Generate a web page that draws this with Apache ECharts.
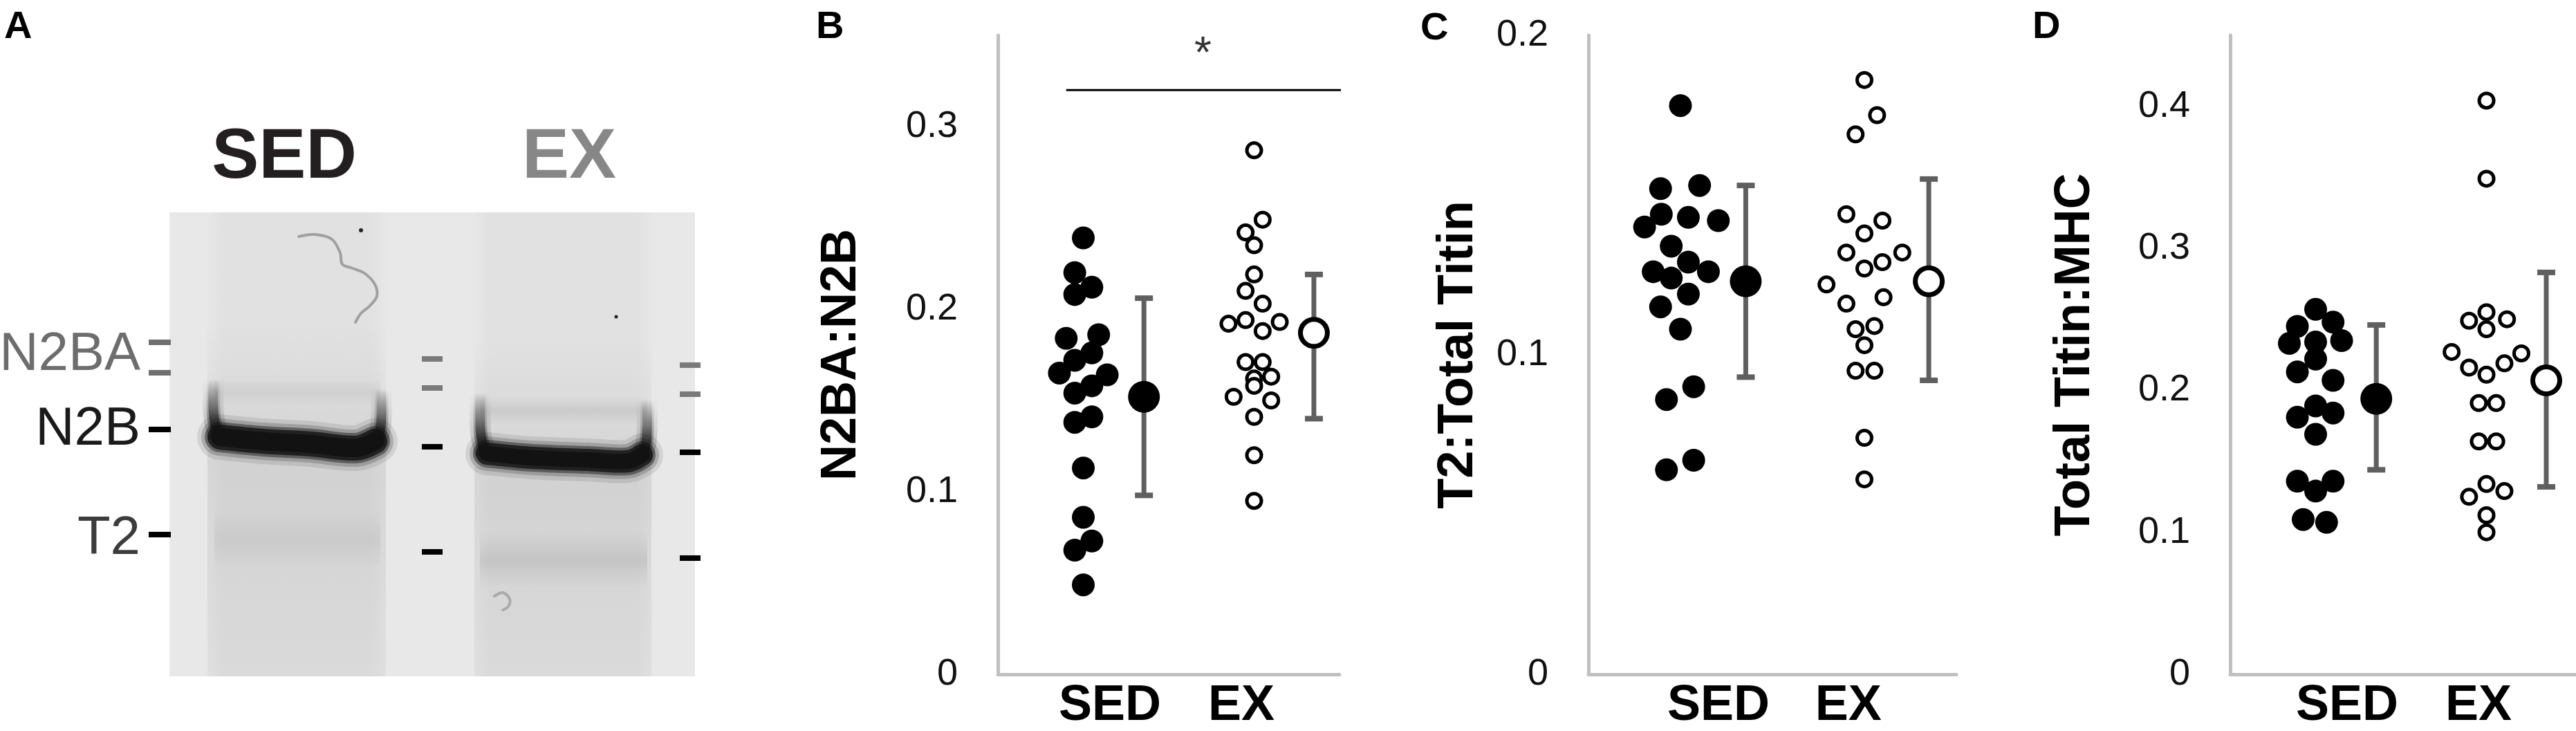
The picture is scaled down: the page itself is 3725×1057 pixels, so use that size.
<!DOCTYPE html>
<html>
<head>
<meta charset="utf-8">
<script src="https://cdn.jsdelivr.net/npm/echarts@6/dist/echarts.min.js"></script>
<style>
  html, body { margin: 0; padding: 0; background: #fff; }
  #chart { width: 3725px; height: 1057px; }
</style>
</head>
<body>
<div id="chart"></div>
<script>
// groups and where their labels sit on the x axis (0..2, SED column at 0.5, EX column at 1.5)
const groups = ['SED', 'EX'];
const groupPos = [0.5, 1.5];
const meanPos = [0.855, 1.85];

// B: N2BA:N2B
const bSedVal = [0.239, 0.220, 0.212, 0.208, 0.184, 0.186, 0.176, 0.172, 0.165, 0.164, 0.158, 0.154, 0.141, 0.138, 0.113, 0.086, 0.073, 0.068, 0.049];
const bSedOff = [0, -0.05, 0.05, -0.05, -0.10, 0.09, 0.05, -0.05, -0.14, 0.14, 0.05, -0.05, 0.05, -0.05, 0, 0, 0.05, -0.05, 0];
const bExVal = [0.287, 0.249, 0.242, 0.235, 0.219, 0.210, 0.203, 0.192, 0.194, 0.193, 0.188, 0.171, 0.171, 0.162, 0.163, 0.152, 0.158, 0.150, 0.141, 0.120, 0.095];
const bExOff = [0, 0.05, -0.05, 0, 0, -0.05, 0.05, -0.15, -0.05, 0.15, 0.05, -0.05, 0.05, 0, 0.10, -0.12, 0, 0.10, 0, 0, 0];
const bMean = [0.152, 0.187];
const bLow = [0.098, 0.140];
const bHigh = [0.206, 0.219];

// C: T2:Total Titin
const cSedVal = [0.178, 0.152, 0.153, 0.144, 0.143, 0.142, 0.140, 0.134, 0.129, 0.126, 0.126, 0.124, 0.119, 0.115, 0.108, 0.090, 0.086, 0.067, 0.064];
const cSedOff = [0, -0.108, 0.104, -0.104, 0.043, 0.206, -0.195, -0.05, 0.043, -0.148, 0.152, -0.05, 0.043, -0.108, 0, 0.072, -0.076, 0.072, -0.076];
const cExVal = [0.186, 0.175, 0.169, 0.144, 0.142, 0.138, 0.132, 0.132, 0.129, 0.127, 0.122, 0.118, 0.116, 0.109, 0.108, 0.103, 0.095, 0.095, 0.074, 0.061];
const cExOff = [0, 0.069, -0.048, -0.098, 0.098, 0, -0.098, 0.206, 0.098, 0, -0.206, 0.104, -0.098, 0.054, -0.048, 0, -0.048, 0.054, 0, 0];
const cMean = [0.123, 0.123];
const cLow = [0.093, 0.092];
const cHigh = [0.153, 0.155];

// D: Total Titin:MHC
const dSedVal = [0.257, 0.245, 0.248, 0.233, 0.234, 0.235, 0.222, 0.213, 0.207, 0.189, 0.181, 0.184, 0.169, 0.136, 0.136, 0.129, 0.109, 0.107];
const dSedOff = [0, -0.107, 0.102, -0.154, 0, 0.152, 0, -0.107, 0.102, 0, -0.107, 0.102, 0, -0.107, 0.102, 0, -0.073, 0.064];
const dExVal = [0.404, 0.349, 0.249, 0.255, 0.250, 0.243, 0.227, 0.226, 0.219, 0.216, 0.211, 0.191, 0.191, 0.164, 0.164, 0.134, 0.125, 0.129, 0.112, 0.100];
const dExOff = [0, 0, -0.102, 0, 0.12, 0, -0.204, 0.204, 0.105, -0.102, 0, -0.045, 0.057, -0.045, 0.057, 0, -0.102, 0.105, 0, 0];
const dMean = [0.194, 0.207];
const dLow = [0.144, 0.132];
const dHigh = [0.246, 0.283];

// significance bar over B
const sigSpan = [0.40, 2.03];
const sigLevel = 0.32;

const FONT = '"Liberation Sans", Arial, Helvetica, sans-serif';
const AXIS_GRAY = '#c0c0c0';
const BAR_GRAY = '#5f5f5f';

const panels = [
  { name: 'N2BA:N2B', max: 0.35, left: 1443, width: 494, xMax: 2, nameGap: 190,
    labelAt: [0.656, 1.425], sed: bSedVal, sedOff: bSedOff, ex: bExVal, exOff: bExOff,
    mean: bMean, low: bLow, high: bHigh },
  { name: 'T2:Total Titin', max: 0.2, left: 2297, width: 532, xMax: 2, nameGap: 152,
    labelAt: [0.707, 1.413], sed: cSedVal, sedOff: cSedOff, ex: cExVal, exOff: cExOff,
    mean: cMean, low: cLow, high: cHigh },
  { name: 'Total Titin:MHC', max: 0.45, left: 3225, width: 500, xMax: 2.024, nameGap: 188,
    labelAt: [0.684, 1.453], sed: dSedVal, sedOff: dSedOff, ex: dExVal, exOff: dExOff,
    mean: dMean, low: dLow, high: dHigh }
];

const grids = [], xAxes = [], yAxes = [], series = [];

panels.forEach((p, i) => {
  grids.push({ left: p.left, top: 51, width: p.width, height: 924 });
  xAxes.push({
    gridIndex: i, type: 'value', min: 0, max: p.xMax,
    axisLine: { show: true, lineStyle: { color: AXIS_GRAY, width: 5 } },
    axisTick: { show: false }, splitLine: { show: false },
    axisLabel: {
      customValues: p.labelAt, margin: 10,
      formatter: v => groups[Math.abs(v - p.labelAt[0]) < 0.01 ? 0 : 1],
      fontFamily: FONT, fontWeight: 'bold', fontSize: 72, color: '#000'
    }
  });
  yAxes.push({
    gridIndex: i, type: 'value', min: 0, max: p.max, interval: 0.1,
    name: p.name, nameLocation: 'middle', nameRotate: 90, nameGap: p.nameGap,
    nameTextStyle: { fontFamily: FONT, fontWeight: 'bold', fontSize: 72, color: '#000' },
    axisLine: { show: true, lineStyle: { color: AXIS_GRAY, width: 5 } },
    axisTick: { show: false }, splitLine: { show: false },
    axisLabel: {
      showMaxLabel: p.max === 0.2, margin: 58,
      formatter: v => (v === 0 ? '0' : v.toFixed(1)),
      fontFamily: FONT, fontSize: 54, color: '#111'
    }
  });

  // error bars (mean +/- spread)
  series.push({
    type: 'custom', xAxisIndex: i, yAxisIndex: i, z: 2,
    data: groups.map((g, k) => [meanPos[k], p.low[k], p.high[k]]),
    renderItem: (params, api) => {
      const x = api.value(0);
      const top = api.coord([x, api.value(2)]);
      const bot = api.coord([x, api.value(1)]);
      const cw = 13;
      return {
        type: 'group', children: [
          { type: 'line', shape: { x1: top[0], y1: top[1], x2: bot[0], y2: bot[1] }, style: { stroke: BAR_GRAY, lineWidth: 7 } },
          { type: 'line', shape: { x1: top[0] - cw, y1: top[1], x2: top[0] + cw, y2: top[1] }, style: { stroke: BAR_GRAY, lineWidth: 8 } },
          { type: 'line', shape: { x1: bot[0] - cw, y1: bot[1], x2: bot[0] + cw, y2: bot[1] }, style: { stroke: BAR_GRAY, lineWidth: 8 } }
        ]
      };
    }
  });

  // individual animals
  series.push({
    type: 'scatter', xAxisIndex: i, yAxisIndex: i, z: 3,
    symbol: 'circle', symbolSize: 33,
    itemStyle: { color: '#000', opacity: 1 },
    data: p.sed.map((v, k) => [groupPos[0] + p.sedOff[k], v])
  });
  series.push({
    type: 'scatter', xAxisIndex: i, yAxisIndex: i, z: 3,
    symbol: 'circle', symbolSize: 21,
    itemStyle: { color: '#fff', borderColor: '#000', borderWidth: 5, opacity: 1 },
    data: p.ex.map((v, k) => [groupPos[1] + p.exOff[k], v])
  });

  // group means
  series.push({
    type: 'scatter', xAxisIndex: i, yAxisIndex: i, z: 4,
    symbol: 'circle', symbolSize: 46,
    itemStyle: { color: '#000', opacity: 1 },
    data: [[meanPos[0], p.mean[0]]]
  });
  series.push({
    type: 'scatter', xAxisIndex: i, yAxisIndex: i, z: 4,
    symbol: 'circle', symbolSize: 39,
    itemStyle: { color: '#fff', borderColor: '#000', borderWidth: 7, opacity: 1 },
    data: [[meanPos[1], p.mean[1]]]
  });
});

// significance line and star in B
series.push({
  type: 'line', xAxisIndex: 0, yAxisIndex: 0, clip: false, symbol: 'none', z: 5,
  lineStyle: { color: '#000', width: 3 },
  data: sigSpan.map(x => [x, sigLevel])
});
series.push({
  type: 'scatter', xAxisIndex: 0, yAxisIndex: 0, clip: false, symbolSize: 0, z: 5,
  label: { show: true, formatter: '*', position: 'inside', fontFamily: FONT, fontSize: 64, color: '#000', offset: [0, 8] },
  data: [[(sigSpan[0] + sigSpan[1]) / 2 - 0.015, 0.342]]
});

// ---------- panel A: gel image drawn with graphic elements ----------
function txt(text, x, y, size, color, align, bold, vAlign) {
  return {
    type: 'text', silent: true,
    style: {
      text: text, x: x, y: y, fill: color,
      font: (bold ? 'bold ' : '') + size + 'px ' + FONT,
      textAlign: align || 'left', textVerticalAlign: vAlign || 'middle'
    }
  };
}
function dash(x, y, w, color) {
  return { type: 'rect', silent: true, shape: { x: x, y: y - 4, width: w, height: 8 }, style: { fill: color } };
}
function vShade(x, w, y, h, stops) {
  return {
    type: 'rect', silent: true, shape: { x: x, y: y, width: w, height: h },
    style: { fill: new echarts.graphic.LinearGradient(0, 0, 0, 1, stops) }
  };
}
function laneEdge(x, w, y, h, alpha) {
  return {
    type: 'rect', silent: true, shape: { x: x, y: y, width: w, height: h },
    style: { fill: new echarts.graphic.LinearGradient(0, 0, 1, 0, [
      { offset: 0, color: 'rgba(0,0,0,0)' },
      { offset: 0.1, color: 'rgba(0,0,0,' + alpha + ')' },
      { offset: 0.9, color: 'rgba(0,0,0,' + alpha + ')' },
      { offset: 1, color: 'rgba(0,0,0,0)' }
    ]) }
  };
}
function faintBand(x, w, yc, h, alpha) {
  return vShade(x, w, yc - h / 2, h, [
    { offset: 0, color: 'rgba(0,0,0,0)' },
    { offset: 0.5, color: 'rgba(0,0,0,' + alpha + ')' },
    { offset: 1, color: 'rgba(0,0,0,0)' }
  ]);
}
function curve(points, width, color) {
  return {
    type: 'polyline', silent: true,
    shape: { points: points, smooth: 0.35 },
    style: { stroke: color, lineWidth: width, fill: null, lineCap: 'round', lineJoin: 'round' }
  };
}
// soft band: several strokes of falling opacity stacked to fake a blur
function softBand(points, core) {
  const layers = [[core + 34, 0.10], [core + 22, 0.2], [core + 12, 0.45], [core + 4, 0.8], [core - 6, 1]];
  return layers.map(l => curve(points, l[0], 'rgba(18,18,18,' + l[1] + ')'));
}
// band side that fades upward
function bandSide(points, width, yTop, yBot) {
  const grad = new echarts.graphic.LinearGradient(0, yTop, 0, yBot, [
    { offset: 0, color: 'rgba(20,20,20,0)' },
    { offset: 0.45, color: 'rgba(20,20,20,0.35)' },
    { offset: 1, color: 'rgba(20,20,20,0.95)' }
  ], true);
  return [width + 16, width + 6, width].map((w, k) => ({
    type: 'polyline', silent: true,
    shape: { points: points, smooth: 0.35 },
    style: { stroke: grad, lineWidth: w, fill: null, lineCap: 'butt', opacity: [0.25, 0.5, 1][k] }
  }));
}

const gelX = 245, gelY = 307, gelW = 760, gelH = 671;
const graphics = [
  { type: 'rect', silent: true, shape: { x: gelX, y: gelY, width: gelW, height: gelH }, style: { fill: '#e8e8e8' } },
  // lanes
  laneEdge(296, 266, gelY, gelH, 0.03),
  laneEdge(682, 266, gelY, gelH, 0.03),
  vShade(300, 258, 470, 170, [{ offset: 0, color: 'rgba(0,0,0,0)' }, { offset: 1, color: 'rgba(0,0,0,0.05)' }]),
  vShade(686, 256, 490, 170, [{ offset: 0, color: 'rgba(0,0,0,0)' }, { offset: 1, color: 'rgba(0,0,0,0.05)' }]),
  vShade(300, 258, 650, 328, [{ offset: 0, color: 'rgba(0,0,0,0.07)' }, { offset: 1, color: 'rgba(0,0,0,0.03)' }]),
  vShade(686, 256, 675, 303, [{ offset: 0, color: 'rgba(0,0,0,0.07)' }, { offset: 1, color: 'rgba(0,0,0,0.03)' }]),
  // faint N2BA and T2 bands
  faintBand(310, 240, 567, 40, 0.05),
  faintBand(694, 242, 594, 40, 0.07),
  faintBand(310, 240, 780, 90, 0.05),
  faintBand(694, 242, 810, 80, 0.08)
]
  // N2B bands (smile shaped)
  .concat(bandSide([[309, 548], [309, 600], [316, 632]], 14, 548, 632))
  .concat(bandSide([[551, 562], [551, 612], [545, 642]], 14, 562, 642))
  .concat(softBand([[318, 632], [380, 638], [450, 642], [515, 648], [542, 638]], 32))
  .concat(bandSide([[695, 568], [695, 625], [702, 656]], 14, 568, 656))
  .concat(bandSide([[935, 578], [935, 635], [928, 662]], 14, 578, 662))
  .concat(softBand([[704, 656], [770, 662], [850, 665], [908, 667], [928, 658]], 28))
  .concat([
  // dust marks
  curve([[432, 342], [455, 339], [480, 346], [492, 366], [495, 382], [510, 388], [527, 395], [542, 411], [545, 428], [535, 442], [522, 453], [514, 466]], 4, '#a0a0a0'),
  curve([[715, 862], [727, 857], [737, 866], [735, 877], [727, 882]], 4, '#aaaaaa'),
  { type: 'circle', silent: true, shape: { cx: 522, cy: 333, r: 3 }, style: { fill: '#222' } },
  { type: 'circle', silent: true, shape: { cx: 891, cy: 458, r: 2.5 }, style: { fill: '#222' } },
  // markers between / right of lanes
  dash(610, 519, 30, '#7a7a7a'), dash(610, 561, 30, '#7a7a7a'),
  dash(610, 646, 30, '#000'), dash(610, 798, 30, '#000'),
  dash(983, 528, 30, '#7a7a7a'), dash(983, 570, 30, '#7a7a7a'),
  dash(983, 654, 30, '#000'), dash(983, 807, 30, '#000'),
  // left labels
  dash(215, 495, 32, '#707070'), dash(215, 539, 32, '#707070'),
  dash(215, 621, 32, '#000'), dash(215, 773, 32, '#000'),
  txt('N2BA', 203, 513, 78, '#6d6d6d', 'right'),
  txt('N2B', 203, 621, 78, '#1a1a1a', 'right'),
  txt('T2', 203, 779, 78, '#3c3c3c', 'right'),
  // lane titles
  txt('SED', 411, 229, 102, '#231f20', 'center', true),
  txt('EX', 823, 229, 102, '#878787', 'center', true),
  // panel letters
  txt('A', 6, 12, 56, '#000', 'left', true, 'top'),
  txt('B', 1180, 12, 56, '#000', 'left', true, 'top'),
  txt('C', 2054, 14, 56, '#000', 'left', true, 'top'),
  txt('D', 2939, 12, 56, '#000', 'left', true, 'top')
]);

const chart = echarts.init(document.getElementById('chart'));
chart.setOption({
  animation: false,
  backgroundColor: '#fff',
  grid: grids,
  xAxis: xAxes,
  yAxis: yAxes,
  series: series,
  graphic: graphics
});
</script>
</body>
</html>
